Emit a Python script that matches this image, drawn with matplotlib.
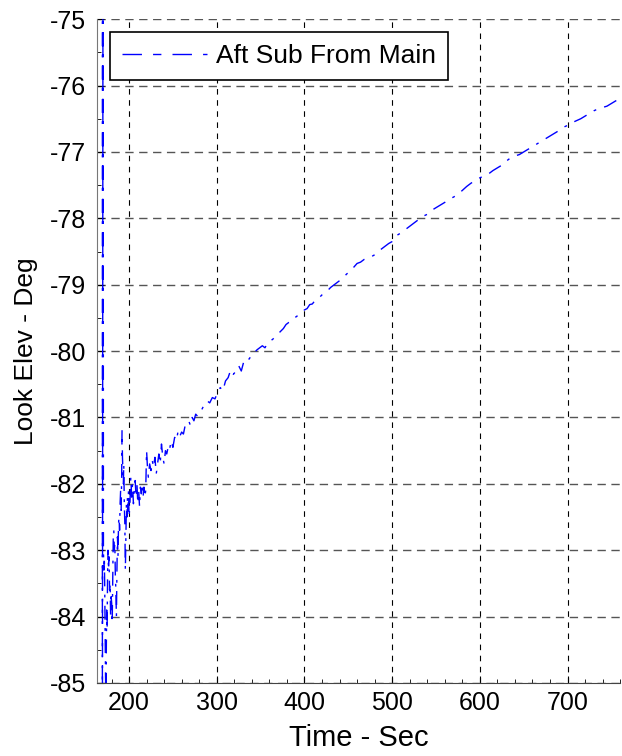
import matplotlib
matplotlib.use('Agg')
import matplotlib.pyplot as plt
from matplotlib.ticker import MultipleLocator

plt.rcParams['font.family'] = ['Liberation Sans', 'DejaVu Sans']
plt.rcParams['axes.unicode_minus'] = False

# time (s) and look elevation (deg)
time = [169.6, 169.6, 170.4,
        170.8, 171.3, 171.8, 172.3, 172.8, 173.2, 173.6, 174.0, 174.5, 175.0,
        175.5, 176.0, 176.6, 177.2, 177.8, 178.4, 179.0, 179.6, 180.2, 180.8,
        181.4, 182.0, 182.6, 183.2, 183.8, 184.4, 185.0, 185.6, 186.2, 186.8,
        187.4, 188.0, 188.6, 189.2, 189.8, 190.4, 191.0, 191.6, 192.0, 192.5,
        193.0, 193.5, 194.0, 194.6, 195.2, 195.8, 196.4, 197.0, 197.6, 198.2,
        198.8, 199.4, 200.0, 201.0, 202.0, 203.0, 204.0, 205.0, 206.0, 207.0,
        208.0, 209.0, 210.0, 211.0, 212.0, 213.0, 214.0, 215.0, 216.0, 217.0,
        218.0, 219.0, 220.0, 221.0, 222.0, 223.5, 225.0, 226.5, 228.0, 229.5,
        231.0, 232.5, 234.0, 235.5, 237.0, 238.5, 240.0, 241.5, 243.0, 244.5,
        246.0, 248.0, 250.0, 252.0, 254.0, 256.0, 258.0, 260.0, 262.0, 264.0,
        266.0, 268.0, 270.0, 272.0, 274.0, 276.0, 278.0, 280.0, 283.0, 286.0,
        289.0, 292.0, 295.0, 298.0, 301.0, 304.0, 307.0, 310.0, 313.0, 316.0,
        319.0, 322.0, 325.0, 328.0, 331.0, 334.0, 337.0, 340.0, 343.0, 346.0,
        349.0, 352.0, 355.0, 358.0, 361.0, 364.0, 367.0, 370.0, 373.0, 376.0,
        379.0, 382.0, 385.0, 388.0, 391.0, 394.0, 397.0, 400.0, 403.0, 406.0,
        409.0, 412.0, 415.0, 418.0, 421.0, 424.0, 427.0, 430.0, 433.0, 436.0,
        440.0, 444.0, 448.0, 452.0, 456.0, 460.0, 464.0, 468.0, 472.0, 476.0,
        480.0, 484.0, 488.0, 492.0, 496.0, 500.0, 505.0, 510.0, 515.0, 520.0,
        525.0, 530.0, 535.0, 540.0, 545.0, 550.0, 555.0, 560.0, 565.0, 570.0,
        575.0, 580.0, 585.0, 590.0, 595.0, 600.0, 605.0, 610.0, 615.0, 620.0,
        625.0, 630.0, 635.0, 640.0, 645.0, 650.0, 655.0, 660.0, 665.0, 670.0,
        675.0, 680.0, 685.0, 690.0, 695.0, 700.0, 705.0, 710.0, 715.0, 720.0,
        725.0, 730.0, 735.0, 740.0, 745.0, 750.0, 755.0, 760.0]
elev = [-72.0, -86.5, -72.0,
        -83.0, -83.3, -83.1, -83.6, -84.3, -84.9, -85.2, -84.6, -83.9, -84.2,
        -83.4, -83.0, -83.3, -83.1, -83.6, -83.5, -84.0, -83.7, -83.8, -84.1,
        -83.4, -82.8, -82.7, -83.0, -82.9, -83.4, -83.6, -84.0, -83.3, -82.8,
        -83.1, -82.6, -82.5, -82.7, -82.3, -82.1, -82.4, -81.9, -81.2, -81.6,
        -81.8, -82.0, -81.7, -82.3, -82.6, -83.3, -82.8, -82.3, -82.5, -82.2,
        -82.4, -82.1, -82.5, -82.3, -81.9, -82.2, -82.0, -82.3, -82.1, -81.95,
        -82.2, -82.0, -82.3, -82.1, -82.35, -82.05, -82.15, -82.0, -82.2, -82.05,
        -82.2, -82.1, -81.5, -81.75, -81.9, -81.7, -81.8, -81.65, -81.75, -81.6,
        -81.85, -81.7, -81.55, -81.7, -81.4, -81.6, -81.7, -81.5, -81.55, -81.45,
        -81.5, -81.35, -81.45, -81.3, -81.35, -81.2, -81.28, -81.22, -81.25, -81.12,
        -81.1, -81.05, -81.12, -81.0, -81.05, -80.95, -80.98, -80.92, -80.88, -80.8,
        -80.75, -80.78, -80.7, -80.72, -80.62, -80.55, -80.6, -80.45, -80.4, -80.28,
        -80.35, -80.3, -80.22, -80.3, -80.15, -80.1, -80.12, -80.05, -80.02, -79.98,
        -79.95, -79.92, -79.95, -79.88, -79.85, -79.82, -79.78, -79.74, -79.7, -79.66,
        -79.6, -79.57, -79.55, -79.5, -79.48, -79.44, -79.42, -79.38, -79.36, -79.3,
        -79.29, -79.24, -79.2, -79.18, -79.14, -79.12, -79.08, -79.04, -79.01, -78.98,
        -78.94, -78.9, -78.84, -78.8, -78.74, -78.68, -78.66, -78.62, -78.6, -78.58,
        -78.55, -78.5, -78.46, -78.42, -78.38, -78.35, -78.26, -78.22, -78.17, -78.12,
        -78.07, -78.02, -77.97, -77.94, -77.88, -77.84, -77.8, -77.76, -77.71, -77.68,
        -77.64, -77.58, -77.52, -77.47, -77.43, -77.39, -77.36, -77.33, -77.28, -77.24,
        -77.2, -77.14, -77.09, -77.06, -77.04, -77.0, -76.96, -76.92, -76.88, -76.84,
        -76.8, -76.76, -76.72, -76.68, -76.63, -76.6, -76.56, -76.53, -76.5, -76.46,
        -76.42, -76.38, -76.35, -76.33, -76.31, -76.27, -76.23, -76.2]

fig = plt.figure(figsize=(6.22, 7.56), dpi=100)
ax = fig.add_axes([0.156, 0.0966, 0.841, 0.878])

ax.plot(time, elev, color='#0000ff', lw=1.0, linestyle=(0, (10, 6, 2, 6)),
        label='Aft Sub From Main')

ax.set_xlim(163.5, 760)
ax.set_ylim(-85, -75)
ax.xaxis.set_major_locator(MultipleLocator(100))
ax.xaxis.set_minor_locator(MultipleLocator(20))
ax.yaxis.set_major_locator(MultipleLocator(1))
ax.yaxis.set_minor_locator(MultipleLocator(0.5))

ax.xaxis.grid(True, which='major', color='black', lw=0.8, linestyle=(0, (5, 5)))
ax.yaxis.grid(True, which='major', color='#555555', lw=1.0, linestyle=(0, (6, 4)))

for s in ['top', 'right']:
    ax.spines[s].set_visible(False)
ax.spines['left'].set_color('#777777')
ax.spines['bottom'].set_color('#444444')

ax.tick_params(which='major', direction='in', length=5, labelsize=18, colors='black')
ax.tick_params(which='minor', direction='in', length=3)
ax.tick_params(axis='y', which='major', pad=8)
ax.tick_params(axis='x', which='major', pad=6)
ax.set_xlabel('Time - Sec', fontsize=21, labelpad=6)
ax.set_ylabel('Look Elev - Deg', fontsize=19, labelpad=8)

leg = ax.legend(loc='upper left', fontsize=19, fancybox=False, framealpha=1,
                edgecolor='black', handlelength=3.2, handletextpad=0.35,
                borderaxespad=0.5, borderpad=0.45)
leg.get_frame().set_linewidth(1.2)
leg.get_lines()[0].set_linestyle((0, (14, 8, 6, 8)))

fig.savefig('out.png', dpi=100)
